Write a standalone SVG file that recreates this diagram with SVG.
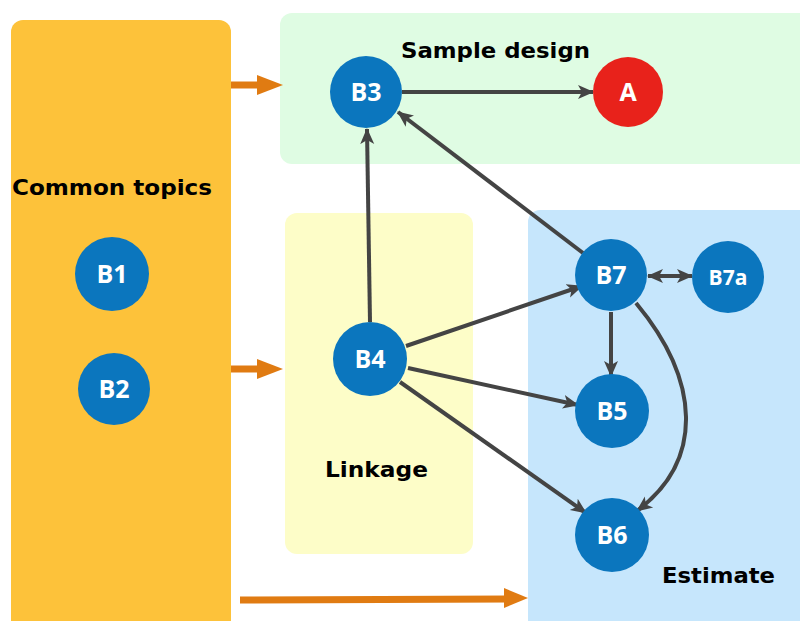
<svg xmlns="http://www.w3.org/2000/svg" width="800" height="621" viewBox="0 0 800 621">
  <style>
    .panel-label { font-family: "DejaVu Sans", "Liberation Sans", sans-serif; font-weight: bold; font-size: 21px; fill: #000; }
    .node circle { fill: #0B76BE; }
    .node text { font-family: "Open Sans", "Liberation Sans", sans-serif; font-weight: bold; font-size: 25px; fill: #fff; text-anchor: middle; }
    .edge { stroke: #444; stroke-width: 4; fill: none; marker-end: url(#head); }
    .flow { stroke: #E07B12; stroke-width: 7; fill: none; }
  </style>
  <defs>
    <marker id="head" markerUnits="userSpaceOnUse" markerWidth="16" markerHeight="16" viewBox="0 0 16 16" refX="15" refY="8" orient="auto">
      <path d="M0,1 L16,8 L0,15 L4,8 Z" fill="#444"/>
    </marker>
    <marker id="tail" markerUnits="userSpaceOnUse" markerWidth="16" markerHeight="16" viewBox="0 0 16 16" refX="1" refY="8" orient="auto">
      <path d="M16,1 L0,8 L16,15 L12,8 Z" fill="#444"/>
    </marker>
  </defs>

  <!-- panels -->
  <g id="panels">
    <rect x="11" y="20" width="220" height="620" rx="12" fill="#FDC23A"/>
    <rect x="280" y="13" width="540" height="151" rx="12" fill="#DFFCE3"/>
    <rect x="285" y="213" width="188" height="341" rx="12" fill="#FDFDC8"/>
    <rect x="528" y="210" width="292" height="430" rx="12" fill="#C6E6FC"/>
    <text class="panel-label" x="12" y="195" textLength="200" lengthAdjust="spacingAndGlyphs">Common topics</text>
    <text class="panel-label" x="401" y="58" textLength="189" lengthAdjust="spacingAndGlyphs">Sample design</text>
    <text class="panel-label" x="325" y="477" textLength="103" lengthAdjust="spacingAndGlyphs">Linkage</text>
    <text class="panel-label" x="662" y="583" textLength="113" lengthAdjust="spacingAndGlyphs">Estimate</text>
  </g>

  <!-- orange flow arrows -->
  <g id="flows">
    <line class="flow" x1="231" y1="85" x2="260" y2="85"/>
    <polygon points="257,75 283,85 257,95" fill="#E07B12"/>
    <line class="flow" x1="231" y1="369" x2="260" y2="369"/>
    <polygon points="257,359 283,369 257,379" fill="#E07B12"/>
    <line class="flow" x1="240" y1="600" x2="508" y2="599"/>
    <polygon points="504,588 528,598 504,608" fill="#E07B12"/>
  </g>

  <!-- connectors -->
  <g id="connectors">
    <line class="edge" x1="370" y1="322" x2="367" y2="129"/>
    <line class="edge" x1="402" y1="92" x2="593" y2="92"/>
    <line class="edge" x1="583" y1="253" x2="398" y2="112"/>
    <line class="edge" x1="406" y1="346" x2="582" y2="286"/>
    <line class="edge" x1="408" y1="368" x2="578" y2="405"/>
    <line class="edge" x1="400" y1="382" x2="586" y2="513"/>
    <line class="edge" x1="611" y1="312" x2="611" y2="376"/>
    <line class="edge" x1="648" y1="276" x2="692" y2="276" marker-start="url(#tail)"/>
    <path class="edge" d="M636,303 C700,380 705,460 637,511"/>
  </g>

  <!-- nodes -->
  <g id="B1" class="node"><circle cx="112" cy="274" r="37"/><text x="112" y="283">B1</text></g>
  <g id="B2" class="node"><circle cx="114" cy="389" r="36"/><text x="114" y="398">B2</text></g>
  <g id="B3" class="node"><circle cx="366" cy="92" r="36"/><text x="366" y="101">B3</text></g>
  <g id="A" class="node"><circle cx="628" cy="92" r="35" style="fill:#E8221B"/><text x="628" y="101">A</text></g>
  <g id="B4" class="node"><circle cx="370" cy="359" r="37"/><text x="370" y="368">B4</text></g>
  <g id="B7" class="node"><circle cx="611" cy="275" r="36"/><text x="611" y="284">B7</text></g>
  <g id="B7a" class="node"><circle cx="728" cy="277" r="36"/><text x="728" y="285" style="font-size:21px">B7a</text></g>
  <g id="B5" class="node"><circle cx="612" cy="411" r="37"/><text x="612" y="420">B5</text></g>
  <g id="B6" class="node"><circle cx="612" cy="535" r="37"/><text x="612" y="544">B6</text></g>
</svg>
